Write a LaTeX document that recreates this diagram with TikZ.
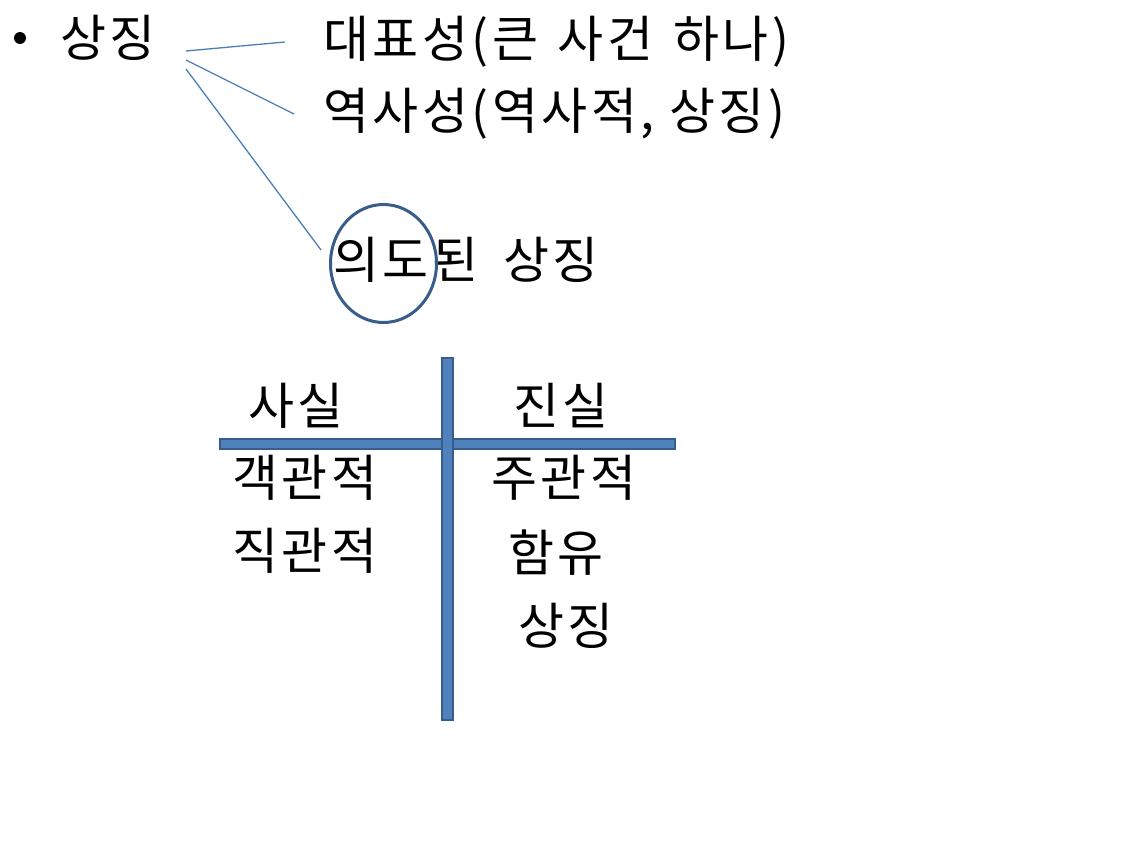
\documentclass[tikz,border=0pt]{standalone}
\usepackage{fontspec}
\newfontfamily\kfont[LetterSpace=7]{Noto Sans CJK KR}
\definecolor{linkblue}{HTML}{4A7EBB}
\definecolor{darkblue}{HTML}{385D8A}
\definecolor{barblue}{HTML}{4F81BD}
\begin{document}
\begin{tikzpicture}[x=1pt,y=-1pt,
  txt/.style={inner sep=0pt,anchor=base west,font=\kfont\fontsize{50}{60}\selectfont},
  link/.style={draw=linkblue,line width=1.3pt},
  bar/.style={draw=darkblue,fill=barblue,line width=2pt}]
\useasboundingbox[fill=white] (0,0) rectangle (1148,862);
% bullet and headline
\fill (20,38) circle (6);
\node[txt] (sym) at (60,56) {상징};
\node[txt] (rep) at (323,57) {대표성(큰\kern5pt{} 사건\kern5pt{} 하나)};
\node[txt] (his) at (323,129) {역사성(역사적, 상징)};
\node[txt] (int) at (333,278) {의도\kern4pt{}된\kern10pt{} 상징};
\draw[draw=darkblue,line width=3pt] (383.5,263.5) ellipse (53 and 59);
% connectors
\coordinate (s1) at (186,51);
\coordinate (s2) at (186,60);
\coordinate (s3) at (186,69);
\coordinate (e1) at (285,42);
\coordinate (e2) at (294,114);
\coordinate (e3) at (321,250);
\draw[link] (s1) -- (e1);
\draw[link] (s2) -- (e2);
\draw[link] (s3) -- (e3);
% T chart
\draw[bar] (220,439) rectangle (675,449);
\draw[bar] (442,358) rectangle (453,720);
\node[txt] (fact) at (248,424) {사실};
\node[txt] (truth) at (513,424) {진실};
\node[txt] (obj) at (232,496) {객관적};
\node[txt] (dir) at (232,569) {직관적};
\node[txt] (subj) at (491,496) {주관적};
\node[txt] (imp) at (508,571) {함유};
\node[txt] (sym2) at (518,644) {상징};
\end{tikzpicture}
\end{document}
